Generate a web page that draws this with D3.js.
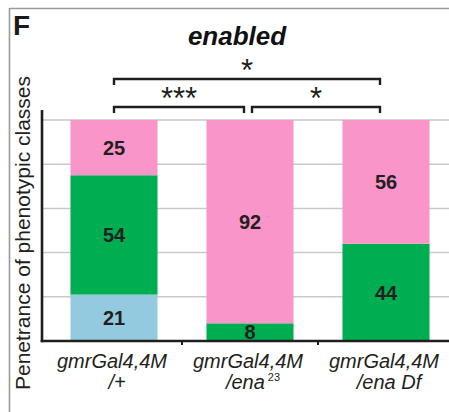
<!DOCTYPE html>
<html>
<head>
<meta charset="utf-8">
<script src="https://cdn.jsdelivr.net/npm/d3@7"></script>
<style>
  html, body { margin: 0; padding: 0; background: #fff; }
  svg { display: block; font-family: "Liberation Sans", Arial, Helvetica, sans-serif; }
</style>
</head>
<body>
<svg id="chart" width="449" height="412"></svg>
<script>
// Genotypes (x categories), split into the main line and the allele line
const genotypes = ["gmrGal4,4M /+", "gmrGal4,4M /ena23", "gmrGal4,4M /ena Df"];
const labelLine1 = ["gmrGal4,4M", "gmrGal4,4M", "gmrGal4,4M"];
const labelLine2 = ["/+", "/ena", "/ena Df"];
const labelSup = ["", "23", ""];

// Phenotypic classes, stacked bottom to top (percent of animals)
const classes = ["blue", "green", "pink"];
const blueValues = [21, 0, 0];
const greenValues = [54, 8, 44];
const pinkValues = [25, 92, 56];
const classColors = ["#93cadf", "#00ae52", "#f995c9"];

// Gridline positions (percent)
const gridTicks = [0, 20, 40, 60, 80, 100];

// Significance comparisons between genotypes
const comparisons = [
  { from: 0, to: 2, label: "*", level: 0 },
  { from: 0, to: 1, label: "***", level: 1 },
  { from: 1, to: 2, label: "*", level: 1 }
];

const svg = d3.select("#chart");
const W = 449, H = 412;

// Panel frame (top and left rules)
svg.append("line").attr("x1", 9.5).attr("x2", W).attr("y1", 8.5).attr("y2", 8.5)
  .attr("stroke", "#9a9a9a").attr("stroke-width", 1.6);
svg.append("line").attr("x1", 9.5).attr("x2", 9.5).attr("y1", 8).attr("y2", H)
  .attr("stroke", "#9a9a9a").attr("stroke-width", 1.6);

// Panel letter and title
svg.append("text").attr("x", 13).attr("y", 35)
  .attr("font-size", 28).attr("font-weight", "bold").attr("fill", "#1a1a1a").text("F");
svg.append("text").attr("x", 237).attr("y", 45).attr("text-anchor", "middle")
  .attr("font-size", 26).attr("font-weight", "bold").attr("font-style", "italic")
  .attr("fill", "#111").text("enabled");

const axisX = 42;
const x = d3.scaleBand().domain(genotypes).range([46, 454]).paddingInner(0.36).paddingOuter(0.18);
const y = d3.scaleLinear().domain([0, 100]).range([341, 120]);

// Gridlines behind the bars
svg.append("g").selectAll("line").data(gridTicks).join("line")
  .attr("x1", axisX).attr("x2", W)
  .attr("y1", d => y(d)).attr("y2", d => y(d))
  .attr("stroke", "#c9c9c9").attr("stroke-width", 1.5);

// Stacked bars
const rows = genotypes.map((g, i) => ({ g, blue: blueValues[i], green: greenValues[i], pink: pinkValues[i] }));
const stack = d3.stack().keys(classes)(rows);
const layers = svg.append("g").selectAll("g").data(stack).join("g")
  .attr("fill", (d, i) => classColors[i]);
layers.selectAll("rect").data(d => d).join("rect")
  .attr("x", d => x(d.data.g))
  .attr("width", x.bandwidth())
  .attr("y", d => y(d[1]))
  .attr("height", d => y(d[0]) - y(d[1]));

// Segment value labels
const segs = [];
stack.forEach(layer => layer.forEach(d => {
  const v = d[1] - d[0];
  if (v > 0) segs.push({ g: d.data.g, v, mid: (d[0] + d[1]) / 2 });
}));
svg.append("g").selectAll("text").data(segs).join("text")
  .attr("x", d => x(d.g) + x.bandwidth() / 2)
  .attr("y", d => y(d.mid))
  .attr("dy", "0.36em")
  .attr("text-anchor", "middle")
  .attr("font-size", 20).attr("font-weight", "bold").attr("fill", "#231f20")
  .text(d => d.v);

// Axes
const axisColor = "#1e1e1e";
svg.append("line").attr("x1", axisX).attr("x2", axisX).attr("y1", y(104.5)).attr("y2", y(0) + 1.2)
  .attr("stroke", axisColor).attr("stroke-width", 2.6);
svg.append("line").attr("x1", axisX - 1.3).attr("x2", W).attr("y1", y(0)).attr("y2", y(0))
  .attr("stroke", axisColor).attr("stroke-width", 2.6);
// small ticks between categories
const between = genotypes.slice(1).map(g => x(g) - x.step() * x.paddingInner() / 2);
svg.append("g").selectAll("line").data(between).join("line")
  .attr("x1", d => d).attr("x2", d => d)
  .attr("y1", y(0)).attr("y2", y(0) + 4)
  .attr("stroke", axisColor).attr("stroke-width", 2);

// Category labels
const lab = svg.append("g").attr("font-style", "italic").attr("font-size", 20).attr("fill", "#231f20")
  .attr("text-anchor", "middle");
lab.selectAll("text.l1").data(genotypes).join("text").attr("class", "l1")
  .attr("x", d => x(d) + x.bandwidth() / 2 - 2)
  .attr("y", 368)
  .text((d, i) => labelLine1[i]);
const l2 = lab.selectAll("text.l2").data(genotypes).join("text").attr("class", "l2")
  .attr("x", d => x(d) + x.bandwidth() / 2 + 3)
  .attr("y", 389);
l2.append("tspan").text((d, i) => labelLine2[i]);
l2.append("tspan").attr("dx", 3).attr("dy", -8).attr("font-size", 11).attr("font-style", "normal")
  .text((d, i) => labelSup[i]);

// Y-axis title
svg.append("text")
  .attr("transform", "translate(30,233) rotate(-90)")
  .attr("text-anchor", "middle")
  .attr("font-size", 21).attr("fill", "#231f20")
  .text("Penetrance of phenotypic classes");

// Significance brackets
const bracketY = [79, 107];
const center = i => x(genotypes[i]) + x.bandwidth() / 2;
const br = svg.append("g");
comparisons.forEach(c => {
  let x1 = center(c.from), x2 = center(c.to);
  if (c.level === 1) {
    if (c.from === 1) x1 += 2; else x2 -= 6;
  }
  x2 -= c.to === 2 ? 6 : 0;
  const by = bracketY[c.level];
  br.append("path")
    .attr("d", `M${x1},${by + 6}V${by}H${x2}V${by + 6}`)
    .attr("fill", "none").attr("stroke", "#1e1e1e").attr("stroke-width", 2.4);
  br.append("text")
    .attr("x", (x1 + x2) / 2).attr("y", by + 2)
    .attr("text-anchor", "middle").attr("font-size", 31).attr("fill", "#1e1e1e")
    .text(c.label);
});
</script>
</body>
</html>
